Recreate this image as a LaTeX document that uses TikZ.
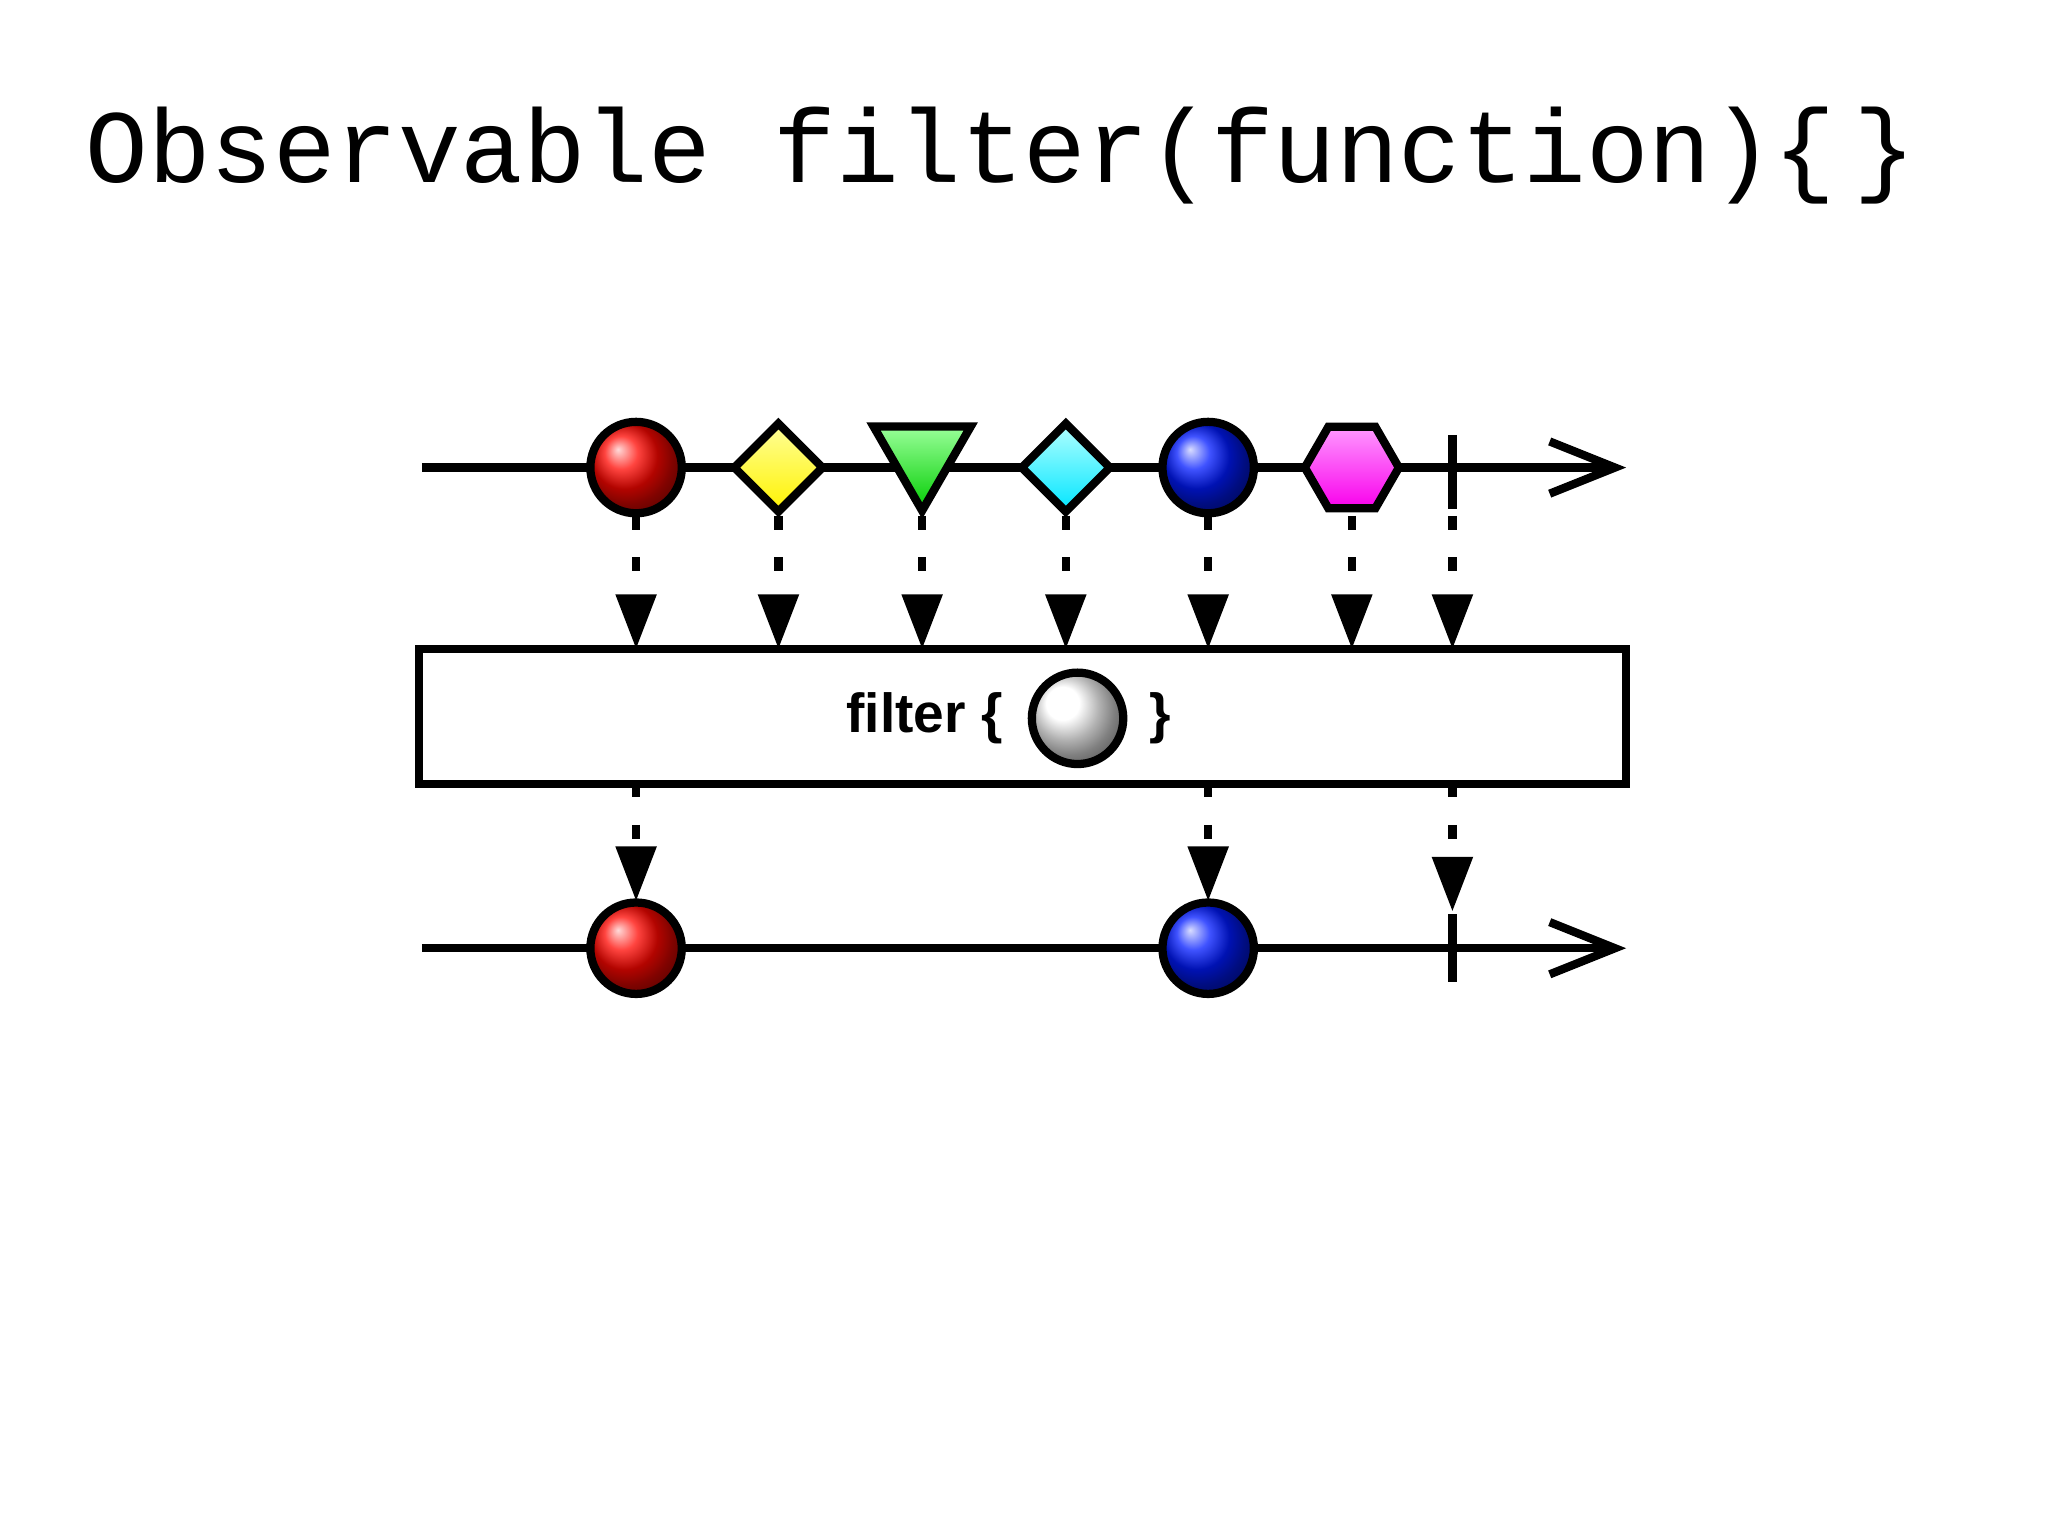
\documentclass[tikz,border=0pt]{standalone}
\usepackage{fontspec}
\setmainfont{Liberation Sans}
\newfontfamily\titlefont{Liberation Mono}
\usetikzlibrary{arrows.meta,shapes.geometric}
\tikzset{
	marble/.style={circle, draw=black, line width=1.8pt, minimum size=0.7cm, inner sep=0pt},
	flowline/.style={line width=1.8pt, -{Straight Barb[length=0.5cm,width=0.4cm,line width=1.8pt]}},
	emit/.style={line width=1.8pt, dash pattern=on 3pt off 6pt, -{Triangle[length=0.42cm,width=0.3cm]}},
}
\begin{document}
\begin{tikzpicture}
		\useasboundingbox (0,0) rectangle (15.68,11.76);
		\node[anchor=base west, inner sep=0pt, font=\titlefont\fontsize{22.7}{26}\selectfont] (title) at (0.65,10.36) {Observable filter(function)\{\,\}};
		% source line
		\coordinate (s0) at (3.23,8.18);
		\coordinate (s1) at (12.45,8.18);
		\draw[flowline] (s0) -- (s1);
		\node[marble, shading=ball, ball color=red!95!orange] (a) at (4.87,8.18) {};
		\node[diamond, draw, line width=1.8pt, minimum size=0.7cm, inner sep=0pt, top color=yellow!40, bottom color=yellow!90!orange] (b) at (5.96,8.18) {};
		\node[regular polygon, regular polygon sides=3, shape border rotate=180, draw, line width=1.8pt, minimum size=0.86cm, inner sep=0pt, top color=green!40, bottom color=green!80!black] (c) at (7.06,8.28) {};
		\node[diamond, draw, line width=1.8pt, minimum size=0.7cm, inner sep=0pt, top color=cyan!30, bottom color=cyan!90!blue] (d) at (8.16,8.18) {};
		\node[marble, shading=ball, ball color=blue!90!cyan] (e) at (9.25,8.18) {};
		\node[regular polygon, regular polygon sides=6, draw, line width=1.8pt, minimum size=0.72cm, inner sep=0pt, top color=magenta!40, bottom color=magenta!90!purple] (f) at (10.35,8.18) {};
		\draw[line width=1.8pt] (11.12,8.43) -- (11.12,7.86);
		% operator box
		\node[draw, line width=1.8pt, minimum width=9.24cm, minimum height=1.03cm, fill=white, inner sep=0pt] (op) at (7.83,6.275) {};
		\node[font=\bfseries\fontsize{12}{14}\selectfont, anchor=east] (lbl) at (7.8,6.26) {filter \{};
		\node[marble, shading=ball, ball color=white] (g) at (8.25,6.26) {};
		\node[font=\bfseries\fontsize{12}{14}\selectfont, anchor=west] (rb) at (8.68,6.26) {\}};
		\foreach \x in {4.87,5.96,7.06,8.16,9.25,10.35,11.12}
			\draw[emit] (\x,7.81) -- (\x,6.79);
		% result line
		\draw[flowline] (3.23,4.5) -- (12.45,4.5);
		\foreach \x in {4.87,9.25}
			\draw[emit] (\x,5.76) -- (\x,4.86);
		\draw[emit] (11.12,5.76) -- (11.12,4.78);
		\node[marble, shading=ball, ball color=red!95!orange] (ra) at (4.87,4.5) {};
		\node[marble, shading=ball, ball color=blue!90!cyan] (re) at (9.25,4.5) {};
		\draw[line width=1.8pt] (11.12,4.76) -- (11.12,4.24);
	\end{tikzpicture}
\end{document}
